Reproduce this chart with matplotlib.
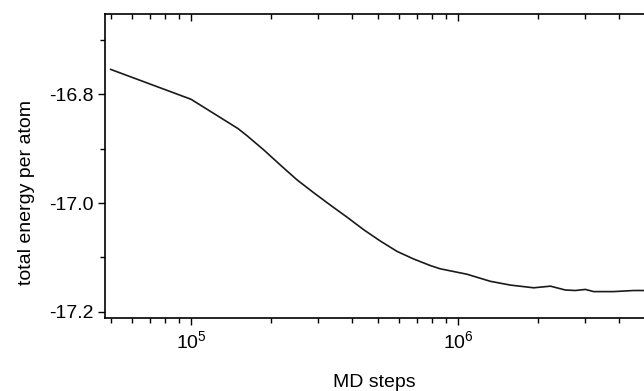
import matplotlib
matplotlib.use("Agg")
import matplotlib.pyplot as plt
from matplotlib.ticker import LogLocator, MultipleLocator, FormatStrFormatter

# MD steps vs total energy per atom
md_steps = [5.0e4, 1.0e5, 1.5e5, 1.62e5, 1.87e5, 2.16e5, 2.49e5, 2.88e5,
            3.33e5, 3.84e5, 4.43e5, 5.12e5, 5.91e5, 6.82e5, 7.87e5, 8.57e5,
            1.08e6, 1.32e6, 1.57e6, 1.92e6, 2.22e6, 2.52e6, 2.75e6, 3.0e6,
            3.22e6, 3.83e6, 4.55e6, 4.98e6]
energy = [-16.754, -16.809, -16.863, -16.876, -16.902, -16.930, -16.957,
          -16.981, -17.004, -17.026, -17.049, -17.070, -17.089, -17.103,
          -17.115, -17.121, -17.131, -17.144, -17.151, -17.156, -17.153,
          -17.160, -17.161, -17.159, -17.163, -17.163, -17.161, -17.161]

plt.rcParams["font.family"] = ["Liberation Sans", "DejaVu Sans"]
plt.rcParams["mathtext.fontset"] = "custom"
plt.rcParams["mathtext.rm"] = "Liberation Sans"
plt.rcParams["mathtext.it"] = "Liberation Sans"

fig = plt.figure(figsize=(6.44, 3.91), dpi=100)
# right edge of the frame lies just past the picture, as in the reference
ax = fig.add_axes([105 / 644, 1 - 318 / 391, 555 / 644, (318 - 14) / 391])

ax.plot(md_steps, energy, color="#1a1a1a", lw=1.2)

ax.set_xscale("log")
ax.set_xlim(4.76e4, 5.71e6)
ax.set_ylim(-17.2116, -16.652)

ax.xaxis.set_major_locator(LogLocator(base=10))
ax.xaxis.set_minor_locator(LogLocator(base=10, subs=range(2, 10)))
ax.yaxis.set_major_locator(MultipleLocator(0.2))
ax.yaxis.set_minor_locator(MultipleLocator(0.1))
ax.yaxis.set_major_formatter(FormatStrFormatter("%.1f"))

# bottom/left ticks outward, top ticks inward
ax.tick_params(which="major", length=5, width=1, labelsize=14, direction="out")
ax.tick_params(which="minor", length=3.5, width=1, direction="out")
ax.tick_params(axis="x", which="both", top=True)
for t in ax.xaxis.get_major_ticks() + ax.xaxis.get_minor_ticks():
    t.tick2line.set_marker(3)  # downward tick on top

for s in ax.spines.values():
    s.set_linewidth(1.2)

ax.set_xlabel("MD steps", fontsize=14)
ax.set_ylabel("total energy per atom", fontsize=14)
ax.xaxis.set_label_coords(0.486, -0.184)
ax.yaxis.set_label_coords(-0.126, 0.414)

fig.savefig("out.png", dpi=100)
